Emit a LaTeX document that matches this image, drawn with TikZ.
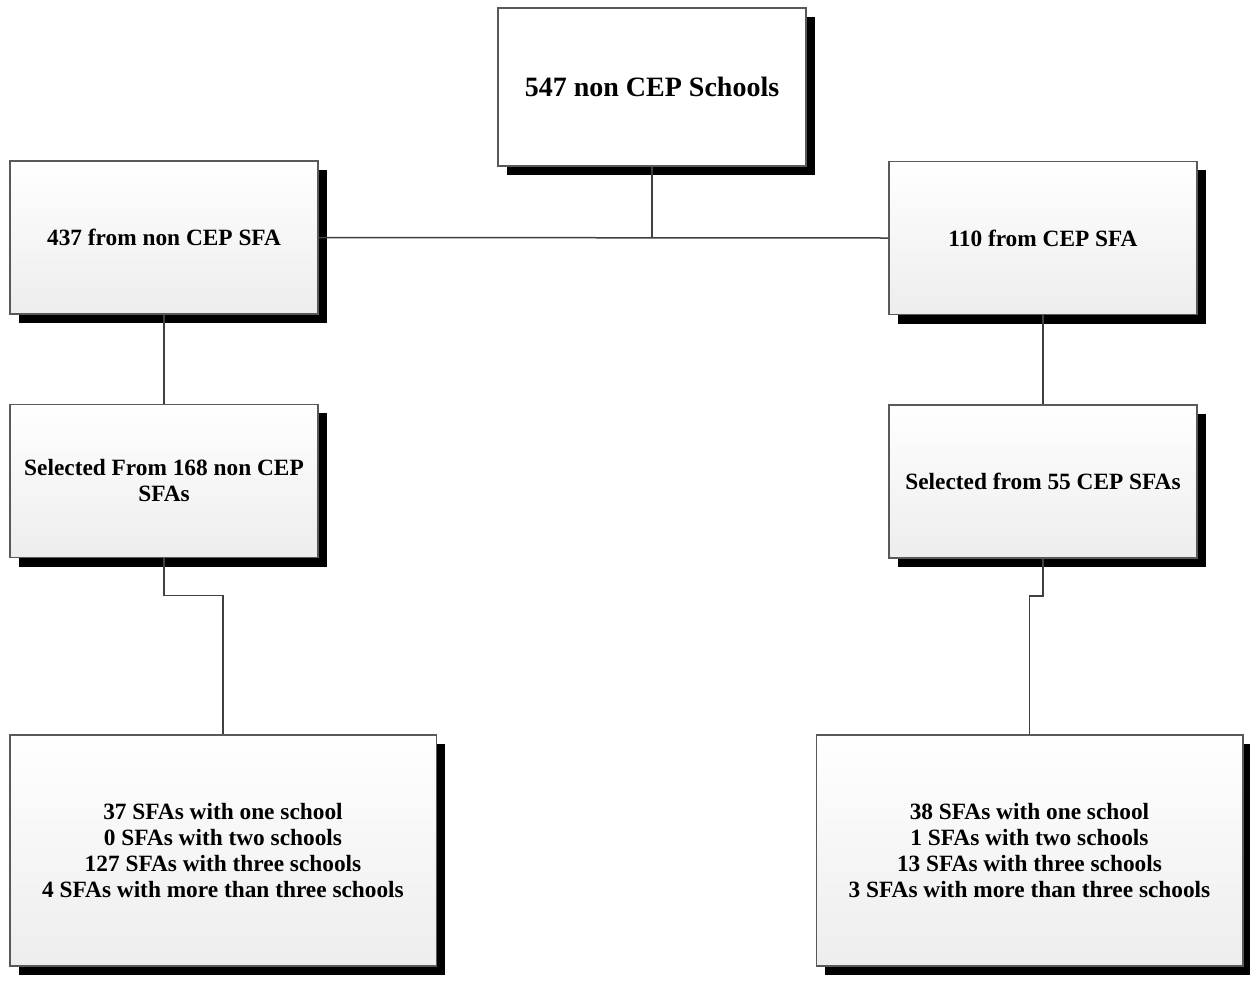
\documentclass[tikz,border=0pt]{standalone}
\usepackage{fontspec}
\setmainfont{Liberation Serif}
\usetikzlibrary{shadows,calc}
\begin{document}
\begin{tikzpicture}[x=0.6pt,y=-0.6pt,
  box/.style={draw=black!65,line width=0.9pt,top color=white,bottom color=black!7,
    inner sep=0pt,align=center,font=\bfseries\fontsize{14}{15.6}\selectfont,
    drop shadow={shadow xshift=5.4pt,shadow yshift=-5.4pt,opacity=1,fill=black}},
  smallbox/.style={box,minimum width=184.8pt,minimum height=92pt},
  bigbox/.style={box,minimum width=255.9pt,minimum height=138.6pt},
  link/.style={draw=black!75,line width=0.9pt}]
\useasboundingbox[fill=white] (0,0) rectangle (1250,981);
\node[box,minimum width=184.8pt,minimum height=94.8pt,top color=white,bottom color=white,
  font=\bfseries\fontsize{16.8}{18}\selectfont] (top) at (652,87) {547 non CEP Schools};
\node[smallbox] (L1) at (164,237.5) {437 from non CEP SFA};
\node[smallbox] (R1) at (1043,238) {110 from CEP SFA};
\node[smallbox] (L2) at (164,481) {Selected From 168 non CEP\\SFAs};
\node[smallbox] (R2) at (1043,481.5) {Selected from 55 CEP SFAs};
\node[bigbox] (L3) at (223,850.5) {37 SFAs with one school\\0 SFAs with two schools\\127 SFAs with three schools\\4 SFAs with more than three schools};
\node[bigbox] (R3) at (1029.5,850.5) {38 SFAs with one school\\1 SFAs with two schools\\13 SFAs with three schools\\3 SFAs with more than three schools};
\coordinate (hub) at (top.south |- L1.east);
\draw[link] (top.south) -- (hub);
\draw[link] (L1.east) -- (R1.west);
\draw[link] (L1.south) -- (L2.north);
\draw[link] (R1.south) -- (R2.north);
\draw[link] (L2.south) -- ++(0,37) -| (L3.north);
\draw[link] (R2.south) -- ++(0,37) -| (R3.north);
\end{tikzpicture}
\end{document}
